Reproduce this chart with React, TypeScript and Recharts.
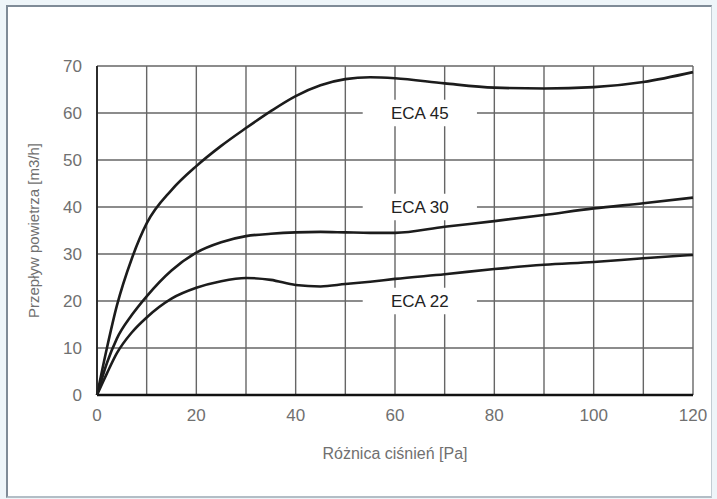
import React from "react";
import {
  LineChart,
  Line,
  XAxis,
  YAxis,
  CartesianGrid,
  ReferenceArea,
  Label,
} from "recharts";

// pressure difference [Pa]
const pressure = [0, 2, 4, 7, 10, 15, 20, 25, 30, 35, 40, 45, 50, 55, 60, 70, 80, 90, 100, 110, 120];

// airflow [m3/h]
const eca45 = [0, 10, 19, 29, 36.5, 43.6, 48.7, 53, 56.8, 60.4, 63.6, 65.9, 67.2, 67.6, 67.4, 66.3, 65.4, 65.2, 65.5, 66.6, 68.7];
const eca30 = [0, 6.8, 12, 17, 21, 26.5, 30.3, 32.5, 33.8, 34.3, 34.6, 34.7, 34.6, 34.5, 34.5, 35.8, 37, 38.3, 39.7, 40.8, 42];
const eca22 = [0, 4.6, 8.9, 13.3, 16.5, 20.5, 22.8, 24.2, 24.9, 24.5, 23.4, 23.1, 23.6, 24.1, 24.7, 25.7, 26.8, 27.7, 28.3, 29.1, 29.8];

const seriesKeys = ["eca45", "eca30", "eca22"];
const labelNames = ["ECA 45", "ECA 30", "ECA 22"];
const labelLevels = [60, 40, 20];

const xTicks = [0, 10, 20, 30, 40, 50, 60, 70, 80, 90, 100, 110, 120];
const yTicks = [0, 10, 20, 30, 40, 50, 60, 70];

const data = pressure.map((p, i) => ({
  p,
  eca45: eca45[i],
  eca30: eca30[i],
  eca22: eca22[i],
}));

const FONT = "'Liberation Sans', Arial, sans-serif";
const tickStyle = { fill: "#707070", fontSize: 17, fontFamily: FONT };

const YTitle = ({ viewBox }: any) => {
  const cy = viewBox.y + viewBox.height / 2;
  const cx = 33;
  return (
    <text
      x={cx}
      y={cy}
      transform={`rotate(-90 ${cx} ${cy})`}
      textAnchor="middle"
      dominantBaseline="central"
      fill="#707070"
      fontSize={15}
      fontFamily={FONT}
    >
      Przepływ powietrza [m3/h]
    </text>
  );
};

export default function App() {
  return (
    <div style={{ position: "absolute", left: 0, top: 0, width: 717, height: 499, background: "#eef5f9" }}>
      <div
        style={{
          position: "absolute",
          left: 6,
          top: 5,
          width: 703,
          height: 489,
          background: "#fff",
          borderTop: "2px solid #7f8b97",
          borderLeft: "2px solid #7f8b97",
          borderRight: "1px solid #c2ccd3",
          borderBottom: "2px solid #b3bec6",
        }}
      />
      <div style={{ position: "absolute", left: 0, top: 0 }}>
        <LineChart
          width={717}
          height={499}
          data={data}
          margin={{ top: 66, right: 24, left: 17, bottom: 34 }}
        >
          <CartesianGrid stroke="#666" strokeWidth={1.4} />
          <XAxis
            type="number"
            dataKey="p"
            domain={[0, 120]}
            ticks={xTicks}
            tickFormatter={(v: number) => (v % 20 === 0 ? String(v) : "")}
            tickLine={false}
            tickSize={0}
            tickMargin={14}
            height={70}
            axisLine={{ stroke: "#111", strokeWidth: 2.5 }}
            tick={tickStyle}
          >
            <Label
              value="Różnica ciśnień [Pa]"
              position="insideBottom"
              offset={6}
              fill="#707070"
              fontSize={16}
              fontFamily={FONT}
            />
          </XAxis>
          <YAxis
            type="number"
            domain={[0, 70]}
            ticks={yTicks}
            tickLine={false}
            tickSize={0}
            tickMargin={15}
            width={80}
            axisLine={{ stroke: "#222", strokeWidth: 1.8 }}
            tick={tickStyle}
          >
            <Label content={<YTitle />} />
          </YAxis>
          {labelNames.map((name, i) => (
            <ReferenceArea
              key={name}
              x1={53.5}
              x2={76.5}
              y1={labelLevels[i] - 2.8}
              y2={labelLevels[i] + 2.8}
              fill="#fff"
              fillOpacity={1}
              stroke="none"
            >
              <Label value={name} position="center" fill="#222" fontSize={17} fontFamily={FONT} />
            </ReferenceArea>
          ))}
          {seriesKeys.map((k) => (
            <Line
              key={k}
              type="monotone"
              dataKey={k}
              stroke="#1c1c1c"
              strokeWidth={2.6}
              dot={false}
              isAnimationActive={false}
            />
          ))}
        </LineChart>
      </div>
    </div>
  );
}
